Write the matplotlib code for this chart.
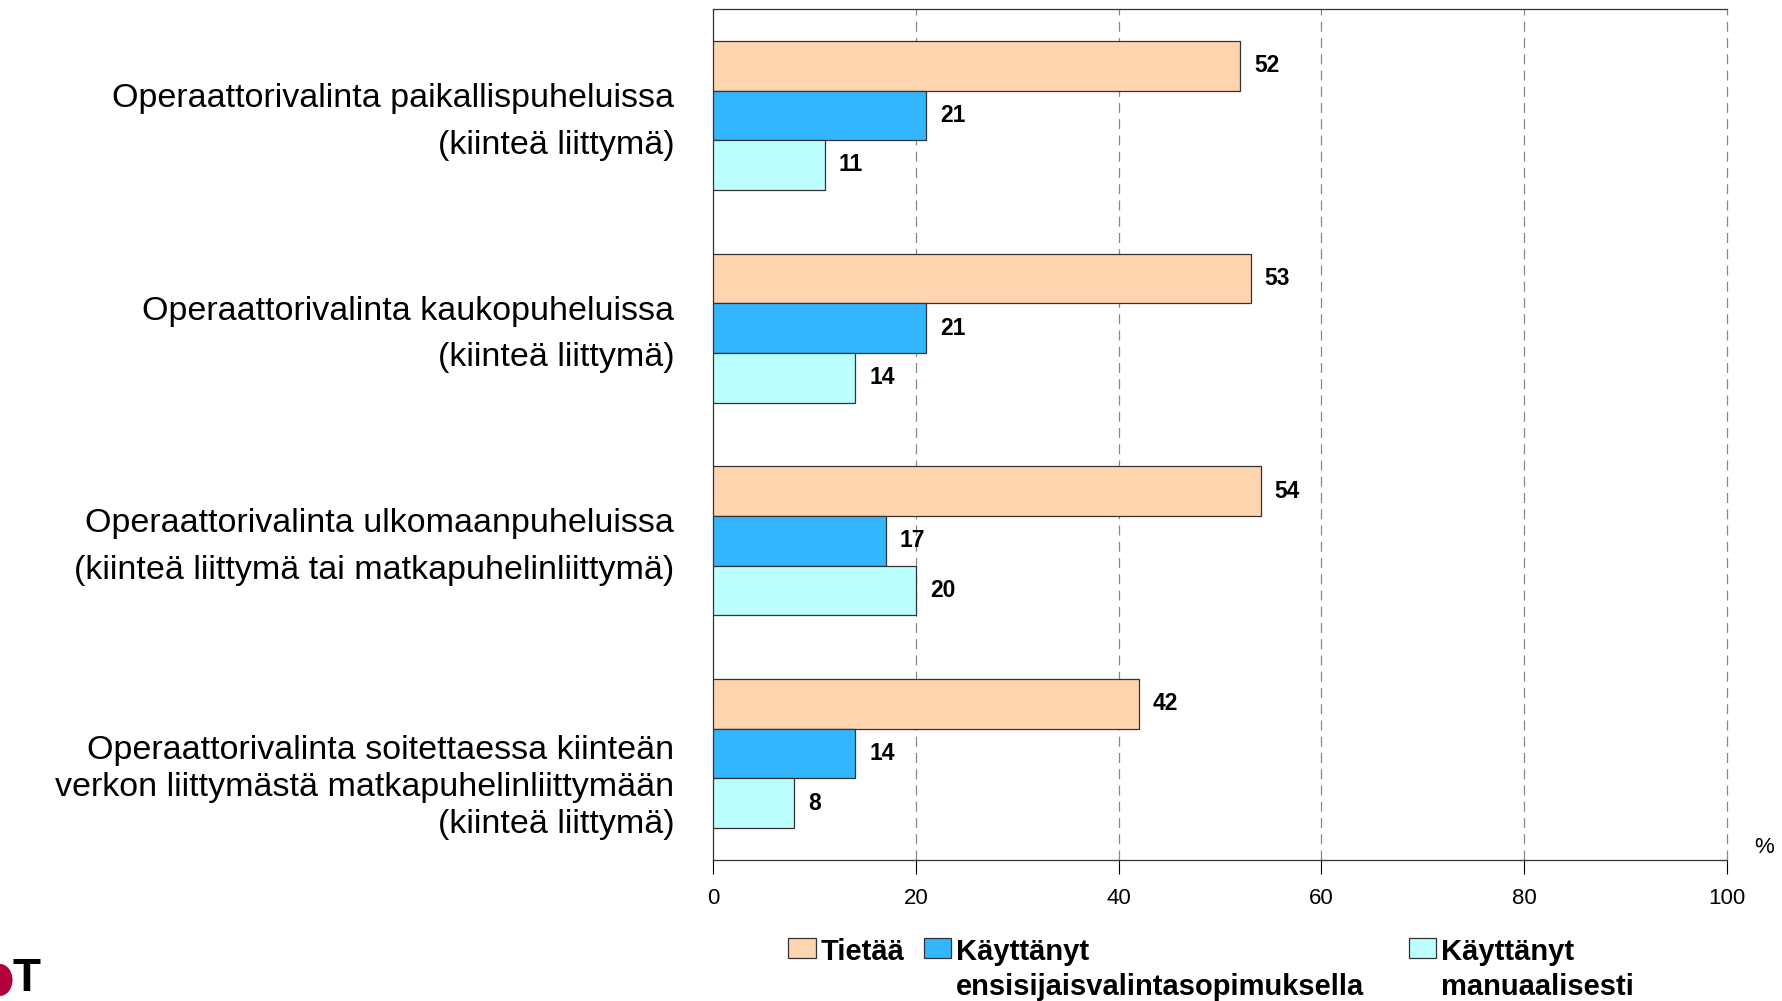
import numpy as np
import matplotlib
matplotlib.use("Agg")
import matplotlib.pyplot as plt
from matplotlib.patches import Ellipse

plt.rcParams['font.family'] = ['Liberation Sans', 'DejaVu Sans']

categories = [
    "Operaattorivalinta paikallispuheluissa\n(kiinteä liittymä)",
    "Operaattorivalinta kaukopuheluissa\n(kiinteä liittymä)",
    "Operaattorivalinta ulkomaanpuheluissa\n(kiinteä liittymä tai matkapuhelinliittymä)",
    "Operaattorivalinta soitettaessa kiinteän\nverkon liittymästä matkapuhelinliittymään\n(kiinteä liittymä)",
]
tietaa = [52, 53, 54, 42]
ensisijainen = [21, 21, 17, 14]
manuaalinen = [11, 14, 20, 8]
series_names = ["Tietää", "Käyttänyt\nensisijaisvalintasopimuksella", "Käyttänyt\nmanuaalisesti"]
colors = ["#FFD5B0", "#33B5FF", "#BBFFFF"]
xticks = [0, 20, 40, 60, 80, 100]

fig = plt.figure(figsize=(17.83, 10.01), dpi=100)
ax = fig.add_axes([0.400, 0.141, 0.5686, 0.850])

ind = np.arange(len(categories))
h = 0.2333
bars = []
for k, vals in enumerate([tietaa, ensisijainen, manuaalinen]):
    b = ax.barh(ind + (k - 1) * h, vals, h, color=colors[k],
                edgecolor="#333333", linewidth=0.9, zorder=3)
    ax.bar_label(b, padding=10, fontsize=16.5, fontweight="bold", zorder=4)
    bars.append(b)

ax.set_ylim(3.5, -0.5)
ax.set_xlim(0, 100)
ax.set_yticks([])
ax.set_xticks(xticks)
ax.tick_params(axis="x", direction="out", length=10, width=0.8, labelsize=16, pad=10)
for x in xticks[1:]:
    ax.axvline(x, color="#888888", linewidth=0.9, linestyle=(0, (8, 5)),
               zorder=1, clip_on=False)
for s in ["left", "bottom", "top"]:
    ax.spines[s].set_color("#333333")
    ax.spines[s].set_linewidth(0.9)
ax.spines["right"].set_visible(False)

# category labels left of the axis
label_dy = [0.03, 0.03, 0.03, 0.16]
label_ls = [1.65, 1.65, 1.65, 1.25]
for i, lab in enumerate(categories):
    ax.annotate(lab, xy=(0, i + label_dy[i]), xycoords=("axes fraction", "data"),
                xytext=(-28, 0), textcoords="offset points",
                ha="right", va="center", multialignment="right",
                fontsize=24.5, linespacing=label_ls[i])

ax.text(1.027, 0.015, "%", transform=ax.transAxes, ha="left", va="center", fontsize=16)

# legend, one box per entry; handle next to the first text line
leg_x = [0.442, 0.518, 0.790]
for k in range(3):
    lg = fig.legend([bars[k]], [series_names[k]], loc="upper left",
                    bbox_to_anchor=(leg_x[k], 0.063), frameon=False, borderpad=0,
                    borderaxespad=0, handlelength=0.95, handleheight=0.7,
                    handletextpad=0.15, prop={"size": 21, "weight": "bold"})
    for t in lg.get_texts():
        t.set_linespacing(1.3)
    for col in lg._legend_handle_box.get_children():
        for item in col.get_children():
            item.align = "top"

# logo fragment bottom-left
fig.patches.append(Ellipse((0.0, 0.021), 0.014, 0.032, transform=fig.transFigure,
                           facecolor="#B0003A", edgecolor="none"))
fig.text(0.007, 0.0, "T", fontsize=33, fontweight="bold", ha="left", va="bottom")

fig.savefig("out.png", dpi=100)
